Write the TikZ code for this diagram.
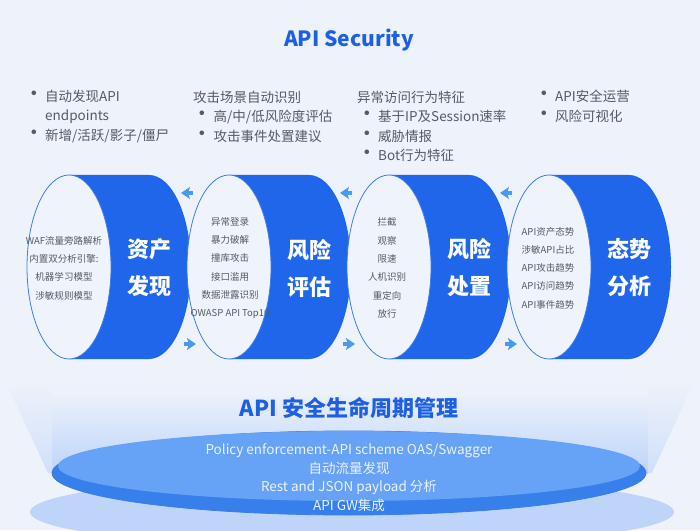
\documentclass[tikz,border=0pt]{standalone}
\usepackage{fontspec}
\setmainfont{Noto Sans CJK SC}
\usepackage{tikz}
\usetikzlibrary{arrows.meta}
\usepackage{xcolor}
\definecolor{bgblue}{RGB}{238,242,250}
\definecolor{apiblue}{RGB}{30,96,228}
\definecolor{textgray}{RGB}{85,90,100}
\definecolor{cyldark}{RGB}{31,102,234}
\definecolor{cyllight}{RGB}{82,146,246}
\definecolor{faceblue}{RGB}{239,243,251}
\definecolor{edgeblue}{RGB}{60,125,232}
\definecolor{arrowblue}{RGB}{72,156,240}
\definecolor{ringlight}{RGB}{102,162,246}
\definecolor{ringdark}{RGB}{55,128,236}
\definecolor{shadowblue}{RGB}{190,212,248}
\definecolor{beamblue}{RGB}{208,224,250}
\definecolor{ringtextcol}{RGB}{235,242,255}
\tikzstyle{titletext} = [inner sep=0pt, text=apiblue, font=\fontsize{21}{25}\selectfont\bfseries]
\tikzstyle{bulletcol} = [anchor=west, inner sep=0pt, align=left, text=textgray, font=\fontsize{13.5}{19.5}\selectfont]
\tikzstyle{cylbody} = [top color=cyldark, middle color=cyllight, bottom color=cyldark]
\tikzstyle{cylface} = [fill=faceblue, draw=edgeblue, line width=0.8pt]
\tikzstyle{stagelabel} = [inner sep=0pt, align=center, text=white, font=\fontsize{22}{37}\selectfont\bfseries]
\tikzstyle{facetext} = [inner sep=0pt, align=center, text=textgray, font=\fontsize{9.5}{18.3}\selectfont]
\tikzstyle{flowarrow} = [-{Stealth[length=9pt,width=12pt,inset=2pt]}, line width=3.5pt, color=arrowblue]
\tikzstyle{ringtext} = [inner sep=0pt, align=center, text=ringtextcol, font=\fontsize{13.5}{18.5}\selectfont]
\newcommand{\itemdot}{\makebox[0pt]{\scalebox{1.6}{•}}\hspace*{11pt}}

\begin{document}
\begin{tikzpicture}[x=1pt, y=1pt]
\useasboundingbox (0,0) rectangle (700,530);
\clip (0,0) rectangle (700,530);
\fill[bgblue] (0,0) rectangle (700,530);

% Title
\node (title) [titletext] at (349,490) {API Security};

% Feature lists
\node (assetlist) [bulletcol] at (34,413.5) {\itemdot 自动发现API\\\hspace*{11pt}endpoints\\\itemdot 新增/活跃/影子/僵尸};
\node (risklist) [bulletcol] at (193,413.5) {攻击场景自动识别\\\hspace*{9.5pt}\itemdot 高/中/低风险度评估\\\hspace*{9.5pt}\itemdot 攻击事件处置建议};
\node (responselist) [bulletcol] at (357,403.5) {异常访问行为特征\\\hspace*{10pt}\itemdot 基于IP及Session速率\\\hspace*{10pt}\itemdot 威胁情报\\\hspace*{10pt}\itemdot Bot行为特征};
\node (posturelist) [bulletcol] at (544,423.5) {\itemdot API安全运营\\\itemdot 风险可视化};

% Light beam
\shade[top color=bgblue, bottom color=beamblue] (5,150) -- (695,150) -- (652,57) -- (48,57) -- cycle;
\shade[top color=bgblue, bottom color=beamblue!85!cyllight] (52,140) rectangle (648,57);

% Cylinders
\path[cylbody] (69,355) -- (149,355) arc[start angle=90, end angle=-90, x radius=42, y radius=92] -- (69,171) -- cycle;
\draw[cylface] (69,263) ellipse [x radius=42, y radius=92];
\path[cylbody] (229,355) -- (309,355) arc[start angle=90, end angle=-90, x radius=42, y radius=92] -- (229,171) -- cycle;
\draw[cylface] (229,263) ellipse [x radius=42, y radius=92];
\path[cylbody] (389,355) -- (469,355) arc[start angle=90, end angle=-90, x radius=42, y radius=92] -- (389,171) -- cycle;
\draw[cylface] (389,263) ellipse [x radius=42, y radius=92];
\path[cylbody] (549,355) -- (629,355) arc[start angle=90, end angle=-90, x radius=42, y radius=92] -- (549,171) -- cycle;
\draw[cylface] (549,263) ellipse [x radius=42, y radius=92];

% Stage names
\node (asset) [stagelabel] at (149,262) {资产\\发现};
\node (risk) [stagelabel] at (309,262) {风险\\评估};
\node (response) [stagelabel] at (469,262) {风险\\处置};
\node (posture) [stagelabel] at (629,262) {态势\\分析};

% Stage details
\node (assetitems) [facetext] at (64,262) {WAF流量旁路解析\\内置双分析引擎:\\机器学习模型\\涉敏规则模型};
\node (riskitems) [facetext] at (230,262) {异常登录\\暴力破解\\撞库攻击\\接口滥用\\数据泄露识别\\OWASP API Top10};
\node (responseitems) [facetext] at (387,262) {拦截\\观察\\限速\\人机识别\\重定向\\放行};
\node (postureitems) [facetext] at (548,262) {API资产态势\\涉敏API占比\\API攻击趋势\\API访问趋势\\API事件趋势};

% Flow arrows
\coordinate (back1) at (193,337);
\coordinate (back1e) at (181,337);
\coordinate (back2) at (352,337);
\coordinate (back2e) at (340,337);
\coordinate (back3) at (512,337);
\coordinate (back3e) at (500,337);
\coordinate (fwd1) at (184,186);
\coordinate (fwd1e) at (196,186);
\coordinate (fwd2) at (343,186);
\coordinate (fwd2e) at (355,186);
\coordinate (fwd3) at (505,186);
\coordinate (fwd3e) at (517,186);
\draw[flowarrow] (back1) -- (back1e);
\draw[flowarrow] (back2) -- (back2e);
\draw[flowarrow] (back3) -- (back3e);
\draw[flowarrow] (fwd1) -- (fwd1e);
\draw[flowarrow] (fwd2) -- (fwd2e);
\draw[flowarrow] (fwd3) -- (fwd3e);

% Lifecycle base
\fill[shadowblue] (352,18) ellipse [x radius=322, y radius=36];
\draw[fill=ringdark, draw=edgeblue, line width=0.8pt] (349,57) ellipse [x radius=297, y radius=42];
\fill[ringlight] (349,64) ellipse [x radius=291, y radius=35];
\node (lifecycle) [titletext, font=\fontsize{22}{26}\selectfont\bfseries] at (349,122) {API 安全生命周期管理};
\node (gateway) [ringtext] at (349,52.5) {Policy enforcement-API scheme OAS/Swagger\\自动流量发现\\Rest and JSON payload 分析\\API GW集成};
\end{tikzpicture}
\end{document}
